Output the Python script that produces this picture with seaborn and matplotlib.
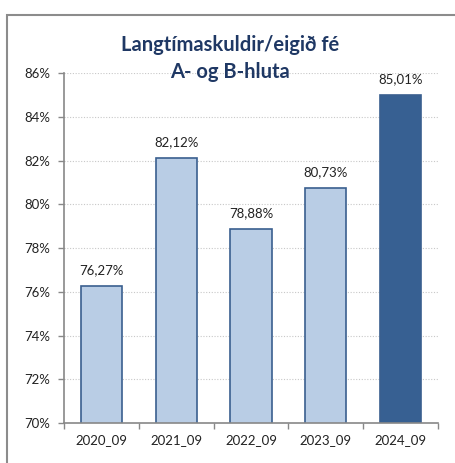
import pandas as pd
import numpy as np
import seaborn as sns
import matplotlib.pyplot as plt
from matplotlib.patches import Rectangle
from matplotlib.ticker import FuncFormatter, FixedLocator

periods = ["2020_09", "2021_09", "2022_09", "2023_09", "2024_09"]
values = [76.27, 82.12, 78.88, 80.73, 85.01]
bar_colors = ["#B9CDE5", "#B9CDE5", "#B9CDE5", "#B9CDE5", "#376092"]

sns.set_theme(style="white")
plt.rcParams["font.family"] = ["Lato", "DejaVu Sans"]

df = pd.DataFrame({"period": periods, "value": values})

fig = plt.figure(figsize=(4.55, 4.63), dpi=100)
ax = fig.add_axes([0.1407, 0.0864, 0.8219, 0.7559])

sns.barplot(data=df, x="period", y="value", hue="period", palette=bar_colors,
            legend=False, width=0.55, edgecolor="#3A5F8F", linewidth=1.2,
            saturation=1, ax=ax)

ax.set_ylim(70, 86)
ax.set_xlim(-0.5, 4.5)
ax.set_yticks(np.arange(70, 87, 2))
ax.yaxis.set_major_formatter(FuncFormatter(lambda v, p: f"{v:.0f}%"))
ax.yaxis.grid(True, linestyle=(0, (1, 1.5)), color="#C8C8C8", linewidth=0.8)
ax.set_axisbelow(True)

# category boundary ticks on x
ax.xaxis.set_major_locator(FixedLocator(range(5)))
ax.xaxis.set_minor_locator(FixedLocator(np.arange(-0.5, 5, 1)))
ax.tick_params(axis="x", which="major", length=0, labelsize=9.5, colors="#222222", pad=8)
ax.tick_params(axis="x", which="minor", length=4, color="#888888", width=1, direction="out")
ax.tick_params(axis="y", length=4, color="#888888", width=1, direction="out",
               labelsize=9.5, labelcolor="#222222", pad=6)
ax.tick_params(axis="x", bottom=True, which="both")
ax.tick_params(axis="y", left=True)

for s in ["top", "right"]:
    ax.spines[s].set_visible(False)
for s in ["left", "bottom"]:
    ax.spines[s].set_color("#888888")
    ax.spines[s].set_linewidth(1.2)

ax.set_xlabel("")
ax.set_ylabel("")

for i, v in enumerate(values):
    ax.text(i, v + 0.45, f"{v:.2f}%".replace(".", ","), ha="center", va="bottom",
            fontsize=9.5, color="#222222")

fig.text(0.505, 0.874, "Langtímaskuldir/eigið fé\nA- og B-hluta", ha="center", va="center",
         fontsize=14.5, fontweight="bold", color="#1F3864", linespacing=1.45)

fig.patches.append(Rectangle((7 / 455, -0.1), 1.2, 1 - 15 / 463 + 0.1,
                             transform=fig.transFigure, fill=False,
                             edgecolor="#8C8C8C", linewidth=1.5))

fig.savefig("out.png", dpi=100, facecolor="white")
